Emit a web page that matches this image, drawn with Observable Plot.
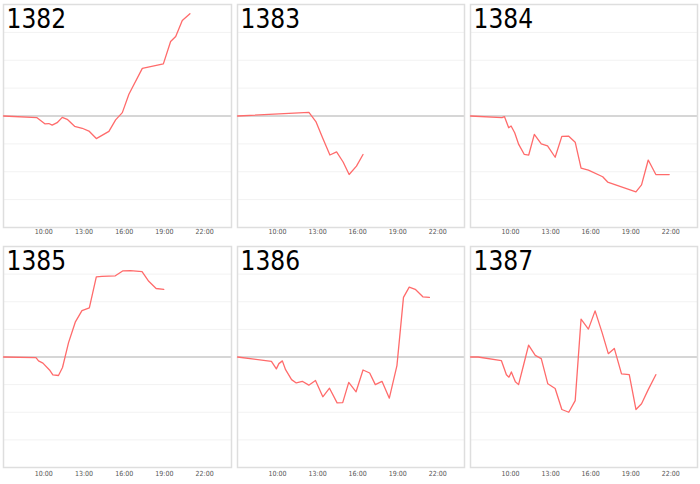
<!DOCTYPE html>
<html><head><meta charset="utf-8">
<script src="https://cdn.jsdelivr.net/npm/d3@7"></script>
<script src="https://cdn.jsdelivr.net/npm/@observablehq/plot@0.6"></script>
<style>
body{margin:0;background:#fff;font-family:"DejaVu Sans Condensed","Noto Sans",sans-serif;}
#grid{display:flex;flex-wrap:wrap;width:700px;}
#grid > div{display:block;line-height:0;}
</style></head><body><div id="grid"></div>
<script>
const titles = ["1382","1383","1384","1385","1386","1387"];

const t1382 = [7.0,9.5,10.08,10.38,10.63,11.0,11.38,11.75,12.3,12.87,13.37,13.92,14.86,15.36,15.86,16.35,17.35,18.92,19.46,19.84,20.33,20.9];
const v1382 = [0,-0.06,-0.28,-0.27,-0.33,-0.24,-0.05,-0.12,-0.37,-0.44,-0.54,-0.81,-0.55,-0.14,0.12,0.78,1.71,1.87,2.67,2.85,3.43,3.67];

const t1383 = [7.0,12.35,12.87,13.37,13.92,14.42,14.91,15.36,15.91,16.4];
const v1383 = [0,0.13,-0.2,-0.78,-1.4,-1.29,-1.65,-2.1,-1.8,-1.38];

const t1384 = [7.0,9.36,9.54,9.86,10.04,10.31,10.61,11.03,11.36,11.78,12.3,12.77,13.34,13.84,14.34,14.84,15.28,15.83,16.9,17.27,19.39,19.81,20.31,20.88,21.88];
const v1384 = [0,-0.06,-0.02,-0.42,-0.36,-0.6,-1.02,-1.38,-1.4,-0.66,-1.0,-1.07,-1.48,-0.73,-0.72,-0.94,-1.87,-1.94,-2.18,-2.37,-2.72,-2.47,-1.58,-2.1,-2.1];

const t1385 = [7.0,9.42,9.61,9.94,10.43,10.68,11.1,11.4,11.85,12.35,12.85,13.4,13.92,14.34,15.34,15.91,16.46,17.33,17.83,18.38,18.95];
const v1385 = [0,-0.02,-0.14,-0.22,-0.47,-0.65,-0.67,-0.38,0.52,1.26,1.68,1.78,2.9,2.92,2.94,3.12,3.13,3.09,2.74,2.48,2.45];

const t1386 = [7.0,9.54,9.91,10.1,10.36,10.6,11.05,11.4,11.85,12.34,12.84,13.39,13.89,14.46,14.88,15.33,15.88,16.4,16.9,17.32,17.82,18.37,18.94,19.43,19.86,20.31,20.88,21.37];
const v1386 = [0,-0.16,-0.43,-0.24,-0.14,-0.46,-0.82,-0.94,-0.88,-1.02,-0.85,-1.44,-1.13,-1.66,-1.65,-0.92,-1.26,-0.47,-0.58,-1.0,-0.88,-1.49,-0.31,2.16,2.53,2.45,2.18,2.16];

const t1387 = [7.0,7.57,9.31,9.69,9.88,10.06,10.36,10.6,10.98,11.35,11.85,12.3,12.79,13.34,13.84,14.36,14.84,15.28,15.83,16.33,16.85,17.32,17.77,18.31,18.89,19.39,19.81,20.31,20.88];
const v1387 = [0,0,-0.13,-0.64,-0.73,-0.54,-0.9,-1.0,-0.28,0.43,0.06,-0.06,-0.97,-1.14,-1.9,-2.0,-1.58,1.37,1.01,1.67,0.89,0.12,0.31,-0.61,-0.64,-1.9,-1.69,-1.18,-0.64];

const times = [t1382,t1383,t1384,t1385,t1386,t1387];
const values = [v1382,v1383,v1384,v1385,v1386,v1387];

const xTicks = [10,13,16,19,22];
const xTickLabels = ["10:00","13:00","16:00","19:00","22:00"];
const xDomain = [7,24];
const yDomain = [-4,4];
const yGrid = [-3,-2,-1,1,2,3];

const colWidths = [234,233,233];
const grid = document.getElementById("grid");
const fam = "'DejaVu Sans Condensed', 'Noto Sans', sans-serif";

titles.forEach((name,i)=>{
  const col = i % 3, row = Math.floor(i/3);
  const data = times[i].map((t,j)=>({t, v: values[i][j]}));
  const plot = Plot.plot({
    width: colWidths[col],
    height: 242,
    marginLeft: 3,
    marginRight: 3,
    marginTop: 4,
    marginBottom: row === 0 ? 15 : 17,
    style: {fontFamily: fam, background: "#fff", overflow: "visible"},
    x: {domain: xDomain, label: null},
    y: {domain: yDomain, axis: null},
    marks: [
      Plot.ruleY(yGrid, {stroke: "#f2f2f2", strokeWidth: 1}),
      Plot.ruleY([0], {stroke: "#c8c8c8", strokeWidth: 1.5}),
      Plot.frame({stroke: "#dedede", strokeWidth: 1.5}),
      Plot.line(data, {x: "t", y: "v", stroke: "#ff6b6b", strokeWidth: 1.3}),
      Plot.axisX(xTicks, {tickSize: 0, tickPadding: row === 0 ? 2 : 4, fontSize: 7, fill: "#555", label: null,
        tickFormat: d => xTickLabels[xTicks.indexOf(d)]}),
      Plot.text([name], {frameAnchor: "top-left", dx: 3, dy: 5, fontSize: 26, fill: "#000", fontFamily: fam})
    ]
  });
  const d = document.createElement("div");
  d.style.width = colWidths[col] + "px";
  d.appendChild(plot);
  grid.appendChild(d);
});
</script></body></html>
